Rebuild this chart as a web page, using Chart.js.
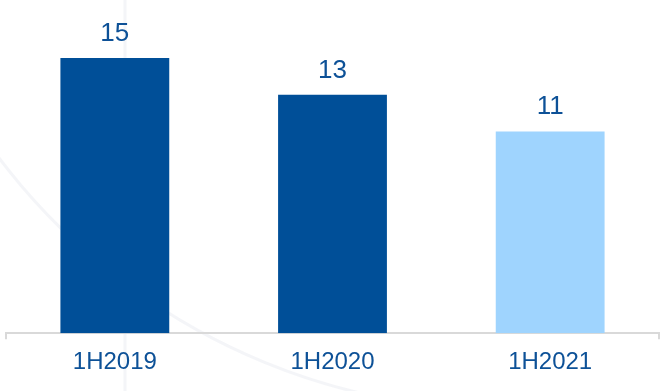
<!DOCTYPE html>
<html>
<head>
<meta charset="utf-8">
<script src="https://cdn.jsdelivr.net/npm/chart.js@4.4.0/dist/chart.umd.min.js"></script>
<style>
  html, body { margin: 0; padding: 0; background: #ffffff; }
  canvas { display: block; }
</style>
</head>
<body>
<canvas id="chart" width="666" height="391"></canvas>
<script>
// Half-year periods and their values
const periods = ['1H2019', '1H2020', '1H2021'];
const values = [15, 13, 11];
const barColors = ['#004f98', '#004f98', '#9fd4fe'];
const yMax = 18;

const textColor = '#0d5197';
const axisColor = '#d9d9d9';
const fontFamily = '"Liberation Sans", Arial, sans-serif';

// Faint decorative ring behind the chart
const backdrop = {
  id: 'backdrop',
  beforeDraw(chart) {
    const ctx = chart.ctx;
    ctx.save();
    ctx.strokeStyle = 'rgba(228, 231, 238, 0.4)';
    ctx.lineWidth = 3;
    ctx.beginPath();
    ctx.moveTo(125, 0);
    ctx.lineTo(125, chart.height);
    ctx.stroke();
    ctx.beginPath();
    ctx.arc(506, -226, 636, Math.PI * 0.55, Math.PI * 0.85);
    ctx.stroke();
    ctx.restore();
  }
};

// Value labels above bars and end ticks on the category axis
const annotate = {
  id: 'annotate',
  afterDatasetsDraw(chart) {
    const ctx = chart.ctx;
    const meta = chart.getDatasetMeta(0);
    ctx.save();
    ctx.fillStyle = textColor;
    ctx.font = '26px ' + fontFamily;
    ctx.textAlign = 'center';
    ctx.textBaseline = 'alphabetic';
    meta.data.forEach((bar, i) => {
      ctx.fillText(String(values[i]), bar.x, bar.y - 17);
    });
    const x = chart.scales.x;
    const y0 = chart.chartArea.bottom;
    ctx.strokeStyle = axisColor;
    ctx.lineWidth = 2;
    ctx.beginPath();
    ctx.moveTo(x.left, y0);
    ctx.lineTo(x.left, y0 + 6);
    ctx.moveTo(x.right, y0);
    ctx.lineTo(x.right, y0 + 6);
    ctx.stroke();
    ctx.restore();
  }
};

new Chart(document.getElementById('chart'), {
  type: 'bar',
  data: {
    labels: periods,
    datasets: [{
      data: values,
      backgroundColor: barColors,
      borderWidth: 0,
      categoryPercentage: 1.0,
      barPercentage: 0.5
    }]
  },
  options: {
    responsive: false,
    animation: false,
    layout: { padding: { left: 6, right: 7, top: 3, bottom: -1 } },
    plugins: {
      legend: { display: false },
      tooltip: { enabled: false }
    },
    scales: {
      x: {
        grid: { display: false, drawTicks: false },
        border: { display: true, color: axisColor, width: 2 },
        ticks: {
          color: textColor,
          padding: 15,
          font: { family: fontFamily, size: 24 }
        }
      },
      y: {
        display: false,
        min: 0,
        max: yMax
      }
    }
  },
  plugins: [backdrop, annotate]
});
</script>
</body>
</html>
